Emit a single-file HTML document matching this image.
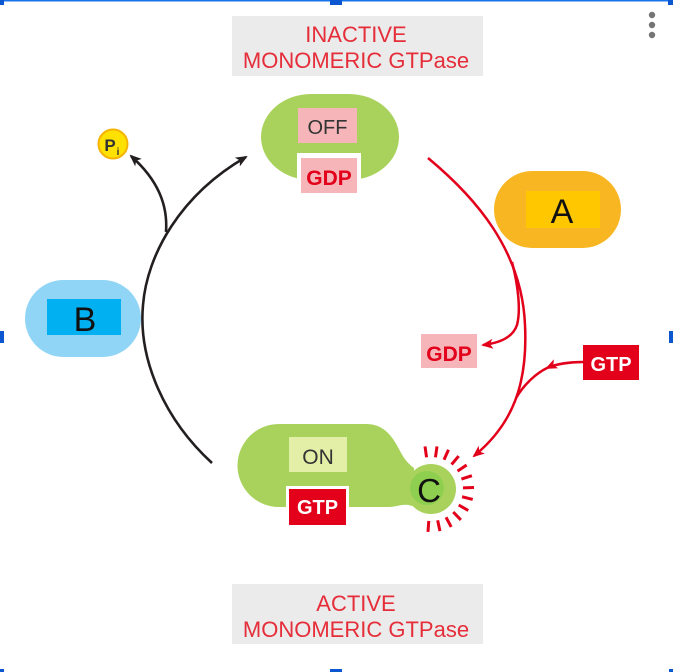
<!DOCTYPE html>
<html><head><meta charset="utf-8"><style>
html,body{margin:0;padding:0;background:#fff;}
svg{display:block;}
text{font-family:"Liberation Sans",sans-serif;}
</style></head><body>
<svg width="673" height="672" viewBox="0 0 673 672" xmlns="http://www.w3.org/2000/svg">
<defs>
<marker id="ar" viewBox="0 0 12 10" refX="10" refY="5" markerWidth="13" markerHeight="10" markerUnits="userSpaceOnUse" orient="auto"><path d="M0,0 L12,5 L0,10 L3,5 Z" fill="#e2001a"/></marker>
<marker id="ab" viewBox="0 0 12 10" refX="10" refY="5" markerWidth="13" markerHeight="10" markerUnits="userSpaceOnUse" orient="auto"><path d="M0,0 L12,5 L0,10 L3,5 Z" fill="#231f20"/></marker>
</defs>
<rect width="673" height="672" fill="#fff"/>
<!-- selection frame -->
<rect x="4" y="0" width="665" height="1.5" fill="#1a73e8"/>
<g fill="#0b57d0">
<rect x="0" y="0" width="4" height="5"/><rect x="330" y="0" width="12" height="5"/><rect x="668" y="0" width="5" height="5"/>
<rect x="0" y="331" width="4" height="12"/><rect x="669" y="331" width="4" height="12"/>
<rect x="0" y="669" width="4" height="3"/><rect x="330" y="669" width="12" height="3"/><rect x="669" y="669" width="4" height="3"/>
</g>
<g fill="#757575"><circle cx="652" cy="15" r="3.2"/><circle cx="652" cy="25" r="3.2"/><circle cx="652" cy="35" r="3.2"/></g>

<!-- title boxes -->
<rect x="232" y="16" width="251" height="60" fill="#ebebeb"/>
<text x="356" y="42" font-size="22" fill="#e52e3a" text-anchor="middle">INACTIVE</text>
<text x="356" y="68" font-size="22" fill="#e52e3a" text-anchor="middle">MONOMERIC GTPase</text>
<rect x="232" y="584" width="251" height="60" fill="#ebebeb"/>
<text x="356" y="611" font-size="22" fill="#e52e3a" text-anchor="middle">ACTIVE</text>
<text x="356" y="637" font-size="22" fill="#e52e3a" text-anchor="middle">MONOMERIC GTPase</text>

<!-- OFF node -->
<rect x="261" y="94" width="138" height="86" rx="50" ry="43" fill="#a9d25c"/>
<rect x="297" y="153" width="64" height="44" fill="#fff"/>
<rect x="298" y="108" width="59" height="35" fill="#f6b6b9"/>
<text x="327.5" y="134" font-size="20" fill="#333" text-anchor="middle">OFF</text>
<rect x="301" y="158" width="56" height="35" fill="#f6b6b9"/>
<text x="329" y="185" font-size="21" font-weight="bold" fill="#e2001a" text-anchor="middle">GDP</text>

<!-- A -->
<rect x="494" y="171" width="127" height="77" rx="38.5" fill="#f8b722"/>
<rect x="526" y="191" width="74" height="37" fill="#ffc700"/>
<text x="562" y="223" font-size="34" fill="#111" text-anchor="middle">A</text>

<!-- B -->
<rect x="25" y="280" width="116" height="77" rx="38.5" fill="#91d5f6"/>
<rect x="47" y="299" width="74" height="36" fill="#00b0f0"/>
<text x="85" y="331" font-size="34" fill="#111" text-anchor="middle">B</text>

<!-- Pi -->
<circle cx="113" cy="144" r="14.5" fill="#ffe100" stroke="#f4b400" stroke-width="2"/>
<text x="110" y="151" font-size="17" font-weight="bold" fill="#333" text-anchor="middle">P</text>
<text x="118" y="155" font-size="10" font-weight="bold" fill="#333" text-anchor="middle">i</text>

<!-- ON node -->
<path d="M279,424 L366,424 C384,424 392,436 399,449 C403,457 407,463 414,468 L412,506 C405,503 400,506 390,507 L279,507 A41.5,41.5 0 0 1 279,424 Z" fill="#a9d25c"/>
<circle cx="431" cy="489" r="25" fill="#a9d25c"/>
<circle cx="427" cy="488" r="17" fill="#8ecf4f"/>
<rect x="286" y="486" width="63" height="42" fill="#fff"/>
<rect x="289" y="437" width="58" height="35" fill="#e3eea6"/>
<text x="318" y="464" font-size="21" fill="#333" text-anchor="middle">ON</text>
<rect x="289" y="489" width="57" height="36" fill="#e2001a"/>
<text x="317.5" y="514" font-size="20" font-weight="bold" fill="#fff" text-anchor="middle">GTP</text>
<text x="429" y="502" font-size="33" fill="#111" text-anchor="middle">C</text>
<!-- rays -->
<g stroke="#e2001a" stroke-width="3" stroke-linecap="butt" transform="translate(431,489)">
<line x1="0" y1="-32" x2="0" y2="-43" transform="rotate(-8)"/>
<line x1="0" y1="-32" x2="0" y2="-43" transform="rotate(8)"/>
<line x1="0" y1="-32" x2="0" y2="-43" transform="rotate(24)"/>
<line x1="0" y1="-32" x2="0" y2="-43" transform="rotate(40)"/>
<line x1="0" y1="-32" x2="0" y2="-43" transform="rotate(56)"/>
<line x1="0" y1="-32" x2="0" y2="-43" transform="rotate(72)"/>
<line x1="0" y1="-32" x2="0" y2="-43" transform="rotate(88)"/>
<line x1="0" y1="-32" x2="0" y2="-43" transform="rotate(104)"/>
<line x1="0" y1="-32" x2="0" y2="-43" transform="rotate(120)"/>
<line x1="0" y1="-32" x2="0" y2="-43" transform="rotate(136)"/>
<line x1="0" y1="-32" x2="0" y2="-43" transform="rotate(152)"/>
<line x1="0" y1="-32" x2="0" y2="-43" transform="rotate(168)"/>
<line x1="0" y1="-32" x2="0" y2="-43" transform="rotate(184)"/>
</g>

<!-- right GDP / GTP labels -->
<rect x="421" y="334" width="56" height="34" fill="#f6b6b9"/>
<text x="449" y="361" font-size="21" font-weight="bold" fill="#e2001a" text-anchor="middle">GDP</text>
<rect x="583" y="345" width="56" height="35" fill="#e2001a"/>
<text x="611" y="371" font-size="20" font-weight="bold" fill="#fff" text-anchor="middle">GTP</text>

<!-- red arrows -->
<g fill="none" stroke="#e2001a" stroke-width="2.5">
<path d="M428,158 C475,197 522,250 525,325 C528,385 512,425 474,456" marker-end="url(#ar)"/>
<path d="M512,262 C518,285 521,310 517,325 C513,337 500,343 483,345" marker-end="url(#ar)"/>
<path d="M583,362 C570,362 556,364 547,368 C537,373 525,383 516,398" marker-mid="url(#ar)"/>
</g>

<!-- black arrows -->
<g fill="none" stroke="#231f20" stroke-width="2.6">
<path d="M212,463 C165,420 138,360 143,305 C147,255 180,195 246,157" marker-end="url(#ab)"/>
<path d="M166,232 C168,205 158,180 131,156" marker-end="url(#ab)"/>
</g>
</svg>
</body></html>
